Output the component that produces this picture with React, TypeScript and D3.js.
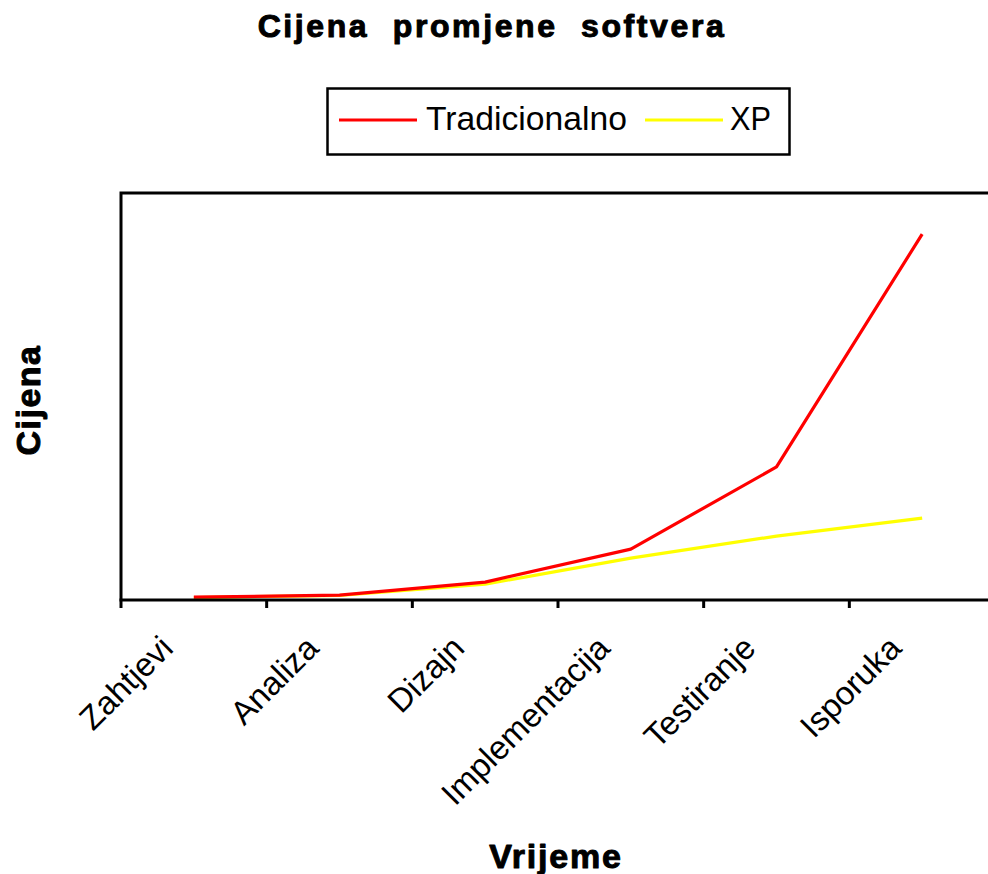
import { useEffect, useRef } from "react";
import * as d3 from "d3";

const categories = ["Zahtjevi", "Analiza", "Dizajn", "Implementacija", "Testiranje", "Isporuka"];
const tradicionalno = [0.7, 1.2, 4.4, 12.5, 32.7, 89.9];
const xp = [0.6, 1.1, 3.9, 10.3, 15.7, 20.1];

const series = [
  { name: "Tradicionalno", values: tradicionalno, color: "#ff0000" },
  { name: "XP", values: xp, color: "#ffff00" },
];

const FONT = "'Liberation Sans', Arial, sans-serif";

export default function App() {
  const svgRef = useRef<SVGSVGElement>(null);

  useEffect(() => {
    document.body.style.margin = "0";
    if (!svgRef.current) return;
    const svg = d3.select(svgRef.current);
    svg.selectAll("*").remove();

    const width = 988;
    const height = 874;
    const left = 121;
    const top = 193;
    const bottom = 600;

    const x = d3.scaleBand<string>().domain(categories).range([left, 995]).padding(0);
    const y = d3.scaleLinear().domain([0, 100]).range([bottom, top]);
    const cx = (c: string) => (x(c) ?? 0) + x.bandwidth() / 2;

    svg.append("rect").attr("width", width).attr("height", height).attr("fill", "#fff");

    // heavy bold text helper
    const heavy = (sel: d3.Selection<SVGTextElement, unknown, null, undefined>, size: number) =>
      sel
        .attr("font-family", FONT)
        .attr("font-weight", "bold")
        .attr("font-size", size)
        .attr("stroke", "#000")
        .attr("stroke-width", 1)
        .attr("stroke-linejoin", "round");

    // title
    heavy(svg.append("text"), 32)
      .attr("x", 492)
      .attr("y", 37)
      .attr("text-anchor", "middle")
      .attr("letter-spacing", 2.6)
      .attr("word-spacing", 12)
      .text("Cijena promjene softvera");

    // legend
    const lg = svg.append("g");
    lg.append("rect")
      .attr("x", 327.5)
      .attr("y", 88.5)
      .attr("width", 462)
      .attr("height", 66)
      .attr("fill", "#fff")
      .attr("stroke", "#000")
      .attr("stroke-width", 2.5);
    const legendItems = [
      { x1: 339, x2: 417, tx: 426 },
      { x1: 645, x2: 723, tx: 730 },
    ];
    series.forEach((s, i) => {
      const it = legendItems[i];
      lg.append("line")
        .attr("x1", it.x1)
        .attr("x2", it.x2)
        .attr("y1", 120)
        .attr("y2", 120)
        .attr("stroke", s.color)
        .attr("stroke-width", 3);
      lg.append("text")
        .attr("x", it.tx)
        .attr("y", 130)
        .attr("font-family", FONT)
        .attr("font-size", 33)
        .attr("textLength", i === 0 ? 201 : 41)
        .attr("lengthAdjust", "spacingAndGlyphs")
        .text(s.name);
    });

    // lines
    const line = d3
      .line<number>()
      .x((_, i) => cx(categories[i]))
      .y((d) => y(d));

    [series[1], series[0]].forEach((s) => {
      svg
        .append("path")
        .datum(s.values)
        .attr("fill", "none")
        .attr("stroke", s.color)
        .attr("stroke-width", 3.2)
        .attr("stroke-linejoin", "round")
        .attr("d", line);
    });

    // frame: left and top
    svg
      .append("path")
      .attr("d", `M${left},${bottom}V${top}H${width}`)
      .attr("fill", "none")
      .attr("stroke", "#000")
      .attr("stroke-width", 3);

    // x axis
    const xa = svg.append("g");
    xa.append("line")
      .attr("x1", left - 1.5)
      .attr("x2", width)
      .attr("y1", bottom)
      .attr("y2", bottom)
      .attr("stroke", "#000")
      .attr("stroke-width", 3);
    categories.forEach((c) => {
      const tx = x(c) ?? 0;
      xa.append("line")
        .attr("x1", tx)
        .attr("x2", tx)
        .attr("y1", bottom)
        .attr("y2", bottom + 8)
        .attr("stroke", "#000")
        .attr("stroke-width", 3);
      xa.append("text")
        .attr("transform", `translate(${cx(c) - 19},650) rotate(-45)`)
        .attr("text-anchor", "end")
        .attr("font-family", FONT)
        .attr("font-size", 33)
        .text(c);
    });

    // axis titles
    heavy(svg.append("text"), 34)
      .attr("transform", "translate(40,400) rotate(-90)")
      .attr("text-anchor", "middle")
      .attr("letter-spacing", 1.5)
      .text("Cijena");
    heavy(svg.append("text"), 34)
      .attr("x", 556)
      .attr("y", 868)
      .attr("text-anchor", "middle")
      .attr("letter-spacing", 1.8)
      .text("Vrijeme");
  }, []);

  return <svg ref={svgRef} width={988} height={874} style={{ display: "block" }} />;
}
